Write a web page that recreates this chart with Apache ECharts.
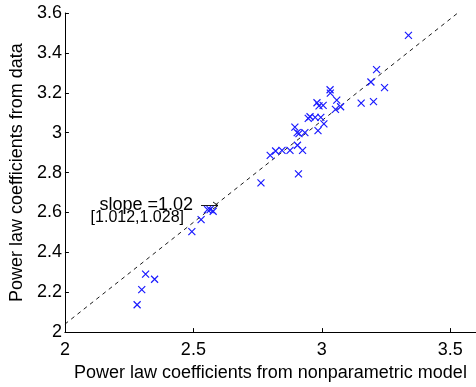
<!DOCTYPE html>
<html>
<head>
<meta charset="utf-8">
<script src="https://cdn.jsdelivr.net/npm/echarts@6/dist/echarts.min.js"></script>
<style>
html,body{margin:0;padding:0;background:#fff;}
#chart{width:476px;height:387px;}
</style>
</head>
<body>
<div id="chart"></div>
<script>
// Data
var nonparametric = [3.337,3.213,3.191,3.244,3.153,3.201,3.032,3.033,3.058,3.053,3.073,2.981,2.989,3.005,2.947,2.954,2.974,2.996,3.008,2.985,2.895,2.904,2.911,2.934,2.905,2.925,2.876,2.845,2.820,2.799,2.909,2.763,2.555,2.565,2.577,2.530,2.494,2.314,2.349,2.299,2.281];
var fromData      = [3.488,3.316,3.254,3.226,3.148,3.156,3.215,3.198,3.163,3.117,3.130,3.150,3.134,3.137,3.072,3.080,3.077,3.077,3.044,3.010,3.028,3.000,2.995,3.000,2.937,2.911,2.911,2.911,2.908,2.886,2.793,2.748,2.614,2.614,2.606,2.564,2.504,2.291,2.265,2.213,2.137];
var fitX = [2, 3.529];
var fitY = [2.04, 3.6];
var xTicks = [2, 2.5, 3, 3.5];
var yTicks = [2, 2.2, 2.4, 2.6, 2.8, 3, 3.2, 3.4, 3.6];
var slopeLabel = 'slope =1.02';
var ciLabel = '[1.012,1.028]';

var points = nonparametric.map(function(x, i){ return [x, fromData[i]]; });
var fitLine = fitX.map(function(x, i){ return [x, fitY[i]]; });

var FONT = '"Liberation Sans", Arial, Helvetica, sans-serif';
var chart = echarts.init(document.getElementById('chart'), null, {renderer:'canvas'});
var arrowStyle = {stroke: '#000', lineWidth: 0.9};
chart.setOption({
  animation: false,
  backgroundColor: '#fff',
  grid: {left: 62, top: 13, width: 416, height: 328, containLabel: false},
  xAxis: {
    type: 'value', min: xTicks[0], max: 3.6, interval: 0.5,
    name: 'Power law coefficients from nonparametric model',
    nameLocation: 'middle', nameGap: 22,
    nameTextStyle: {fontFamily: FONT, fontSize: 18, color: '#000'},
    axisLine: {show: true, onZero: false, lineStyle: {color: '#000', width: 1}},
    axisTick: {show: true, inside: true, length: 4, lineStyle: {color: '#000'}},
    axisLabel: {fontFamily: FONT, fontSize: 18, color: '#000', margin: 9, showMaxLabel: false,
      formatter: function(v){ return xTicks.indexOf(Math.round(v*100)/100) >= 0 ? String(Math.round(v*100)/100) : ''; }},
    splitLine: {show: false}
  },
  yAxis: {
    type: 'value', min: yTicks[0], max: yTicks[yTicks.length-1], interval: 0.2,
    name: 'Power law coefficients from data',
    nameLocation: 'middle', nameGap: 34, nameRotate: 90,
    nameTextStyle: {fontFamily: FONT, fontSize: 18, color: '#000'},
    axisLine: {show: true, onZero: false, lineStyle: {color: '#000', width: 1}},
    axisTick: {show: true, inside: true, length: 4, lineStyle: {color: '#000'}},
    axisLabel: {fontFamily: FONT, fontSize: 18, color: '#000', margin: 3,
      formatter: function(v){ return String(Math.round(v*10)/10); }},
    splitLine: {show: false}
  },
  series: [
    {
      type: 'scatter', data: points, clip: false, z: 3,
      symbol: 'path://M0,0L10,10M10,0L0,10', symbolSize: 7,
      itemStyle: {color: '#1a1aff', borderColor: '#1a1aff', borderWidth: 1.2, opacity: 1},
      emphasis: {disabled: true}
    },
    {
      type: 'line', data: fitLine, symbol: 'none', silent: true, z: 2,
      lineStyle: {color: '#000', width: 0.9, type: [4, 4]}
    }
  ],
  graphic: [
    {type: 'text', x: 193, y: 205,
     style: {text: slopeLabel, font: '18px ' + FONT, fill: '#000', textAlign: 'right', textVerticalAlign: 'middle'}},
    {type: 'text', x: 184, y: 217.5,
     style: {text: ciLabel, font: '16px ' + FONT, fill: '#000', textAlign: 'right', textVerticalAlign: 'middle'}},
    {type: 'line', shape: {x1: 201, y1: 205.5, x2: 218, y2: 205.5}, style: arrowStyle},
    {type: 'line', shape: {x1: 213, y1: 202, x2: 218, y2: 205.5}, style: arrowStyle},
    {type: 'line', shape: {x1: 213, y1: 209, x2: 218, y2: 205.5}, style: arrowStyle}
  ]
});
</script>
</body>
</html>
